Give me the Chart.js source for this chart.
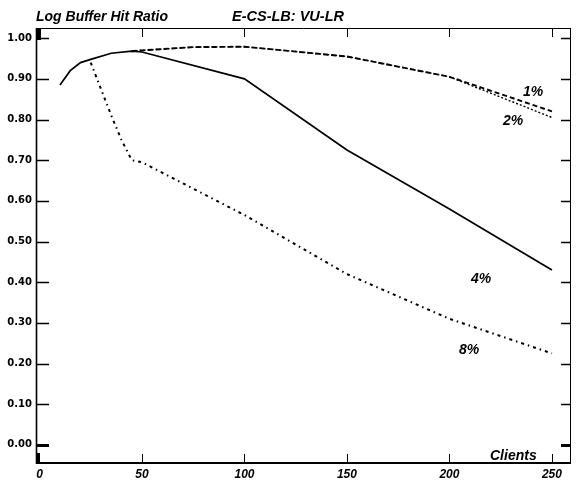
<!DOCTYPE html>
<html>
<head>
<meta charset="utf-8">
<script src="https://cdn.jsdelivr.net/npm/chart.js@4"></script>
<style>
  html, body { margin: 0; padding: 0; background: #fff; }
  #wrap { width: 577px; height: 481px; }
</style>
</head>
<body>
<div id="wrap"><canvas id="grafico"></canvas></div>
<script>
// Datos (Clients -> Log Buffer Hit Ratio)
const clients4 = [10, 15, 20, 25, 35, 45, 50, 100, 150, 200, 250];
const hit4 = [0.885, 0.92, 0.94, 0.948, 0.963, 0.968, 0.966, 0.90, 0.725, 0.58, 0.43];

const clients8 = [25, 35, 40, 45, 50, 100, 150, 200, 250];
const hit8 = [0.94, 0.81, 0.75, 0.70, 0.695, 0.565, 0.42, 0.31, 0.225];

const clients1 = [45, 50, 75, 100, 150, 200, 250];
const hit1 = [0.968, 0.970, 0.978, 0.979, 0.955, 0.905, 0.82];

const clients2 = [45, 50, 75, 100, 150, 200, 250];
const hit2 = [0.968, 0.970, 0.978, 0.979, 0.955, 0.905, 0.805];

const xTicks = [0, 50, 100, 150, 200, 250];
const yTicks = [0, 0.1, 0.2, 0.3, 0.4, 0.5, 0.6, 0.7, 0.8, 0.9, 1.0];

function puntos(xs, ys) {
    return xs.map((x, i) => ({ x: x, y: ys[i] }));
}

// Marco, marcas de eje y textos
const decoracion = {
    id: 'decoracion',
    afterDraw(chart) {
        const ctx = chart.ctx;
        const a = chart.chartArea;
        const sx = chart.scales.x;
        const sy = chart.scales.y;
        ctx.save();
        ctx.strokeStyle = '#000';
        ctx.fillStyle = '#000';

        // marco
        ctx.lineWidth = 1;
        ctx.beginPath();
        ctx.moveTo(a.left, a.top + 0.5);
        ctx.lineTo(a.right, a.top + 0.5);
        ctx.moveTo(a.right - 0.5, a.top);
        ctx.lineTo(a.right - 0.5, a.bottom);
        ctx.stroke();
        ctx.lineWidth = 1.6;
        ctx.beginPath();
        ctx.moveTo(a.left + 0.5, a.top);
        ctx.lineTo(a.left + 0.5, a.bottom);
        ctx.stroke();
        ctx.lineWidth = 2;
        ctx.beginPath();
        ctx.moveTo(a.left, a.bottom - 1);
        ctx.lineTo(a.right, a.bottom - 1);
        ctx.stroke();

        // marcas del eje y (hacia dentro)
        yTicks.forEach(v => {
            const py = Math.round(sy.getPixelForValue(v)) + 0.5;
            ctx.lineWidth = v === 0 ? 3 : 1.3;
            ctx.beginPath();
            ctx.moveTo(a.left, py);
            ctx.lineTo(a.left + 13, py);
            ctx.moveTo(a.right, py);
            ctx.lineTo(a.right - 10, py);
            ctx.stroke();
        });
        // marcas del eje x (hacia dentro)
        ctx.lineWidth = 1;
        xTicks.forEach(v => {
            if (v === 0) return;
            const px = Math.round(sx.getPixelForValue(v)) + 0.5;
            ctx.beginPath();
            ctx.moveTo(px, a.bottom);
            ctx.lineTo(px, a.bottom - 10);
            ctx.moveTo(px, a.top);
            ctx.lineTo(px, a.top + 9);
            ctx.stroke();
        });
        // barras gruesas en la esquina
        ctx.fillRect(a.left, a.top, 5, 12);
        ctx.fillRect(a.left, a.bottom - 11, 4, 11);

        // textos
        ctx.font = 'italic bold 14px "Liberation Sans", Arial, sans-serif';
        ctx.textBaseline = 'alphabetic';
        ctx.textAlign = 'left';
        ctx.fillText('Log Buffer Hit Ratio', 36, 21);
        ctx.font = 'italic bold 14.5px "Liberation Sans", Arial, sans-serif';
        ctx.fillText('E-CS-LB: VU-LR', 232, 21);
        ctx.font = 'italic bold 14px "Liberation Sans", Arial, sans-serif';
        ctx.fillText('Clients', 490, 460);
        ctx.fillText('1%', 523, 96);
        ctx.fillText('2%', 503, 125);
        ctx.fillText('4%', 471, 283);
        ctx.fillText('8%', 459, 354);
        ctx.restore();
    }
};

const grafico = new Chart(document.getElementById('grafico'), {
    type: 'line',
    data: {
        datasets: [
            {
                label: '4%',
                data: puntos(clients4, hit4),
                borderColor: '#000',
                borderWidth: 1.7,
            },
            {
                label: '8%',
                data: puntos(clients8, hit8),
                borderColor: '#000',
                borderWidth: 2,
                borderDash: [3, 4, 1.5, 4],
            },
            {
                label: '1%',
                data: puntos(clients1, hit1),
                borderColor: '#000',
                borderWidth: 1.9,
                borderDash: [5, 3],
            },
            {
                label: '2%',
                data: puntos(clients2, hit2),
                borderColor: '#000',
                borderWidth: 1.4,
                borderDash: [2, 2],
            },
        ]
    },
    options: {
        responsive: true,
        maintainAspectRatio: false,
        animation: false,
        elements: { point: { radius: 0 }, line: { tension: 0, fill: false } },
        layout: { padding: { top: 28, right: 6, left: 0, bottom: 0 } },
        plugins: { legend: { display: false }, tooltip: { enabled: false } },
        scales: {
            x: {
                type: 'linear',
                min: -1.7,
                max: 259.3,
                afterFit: s => { s.height = 17; },
                grid: { display: false, drawTicks: false },
                border: { display: false },
                afterBuildTicks: s => { s.ticks = xTicks.map(v => ({ value: v })); },
                ticks: {
                    padding: 3,
                    color: '#000',
                    font: { family: '"Liberation Sans", Arial, sans-serif', size: 12, style: 'italic', weight: 'bold' },
                    maxRotation: 0,
                },
            },
            y: {
                min: -0.047,
                max: 1.025,
                afterFit: s => { s.width = 36; },
                grid: { display: false, drawTicks: false },
                border: { display: false },
                afterBuildTicks: s => { s.ticks = yTicks.map(v => ({ value: v })); },
                ticks: {
                    padding: 4,
                    color: '#000',
                    font: { family: '"DejaVu Sans", sans-serif', size: 10, weight: 'bold' },
                    callback: v => Number(v).toFixed(2),
                },
            },
        },
    },
    plugins: [decoracion],
});
</script>
</body>
</html>
